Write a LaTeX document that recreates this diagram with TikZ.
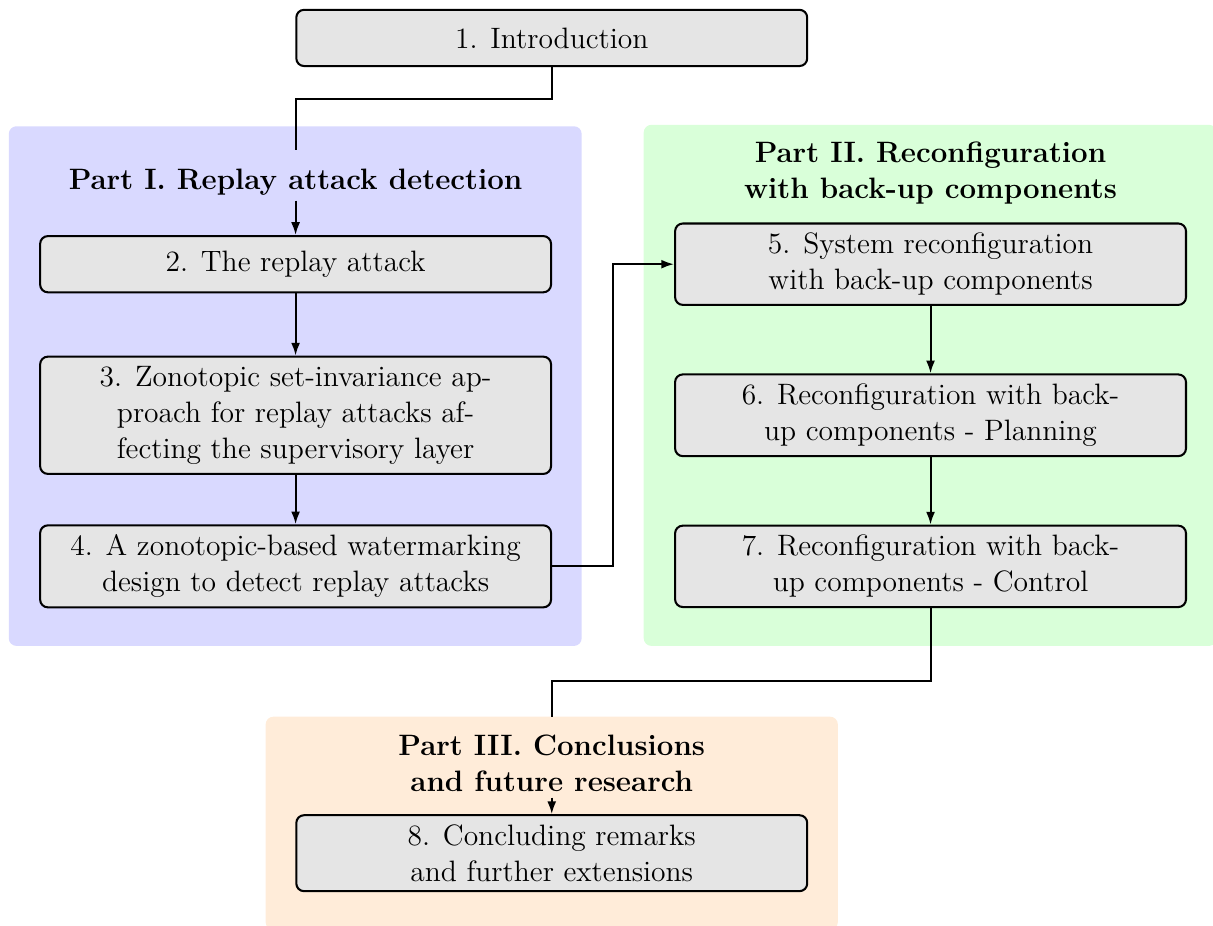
\documentclass[tikz,border=0pt,11pt]{standalone}
\usepackage{tikz}
\usetikzlibrary{arrows.meta, positioning}
\newcommand{\chapfont}{\fontsize{11.5}{14.1}\selectfont}

\begin{document}
\begin{tikzpicture}[
    box/.style={draw=black, thick, fill=gray!20, rounded corners=3pt, font=\chapfont,
                minimum width=7cm, minimum height=0.77cm, align=center},
    part/.style={font=\chapfont\bfseries, align=center, inner sep=2pt},
    partbg/.style={fill=#1!15, rounded corners=3pt},
    link/.style={thick},
    arrow/.style={thick, -{Latex[length=5pt, width=3.5pt]}},
]
    \useasboundingbox (0, 0) rectangle (16.62, -12.68);

    % part backgrounds
    \fill[partbg=blue] (0.12, -1.73) rectangle (7.97, -8.85);
    \fill[partbg=green] (8.82, -1.71) rectangle (16.67, -8.85);
    \fill[partbg=orange] (3.64, -9.82) rectangle (11.48, -12.74);

    \node[box] (intro) at (7.56, -0.52) {1. Introduction};

    % Part I
    \node[part] (partI) at (4.05, -2.49) {Part I. Replay attack detection};
    \node[box] (replay) at (4.05, -3.62) {2. The replay attack};
    \node[box] (zono) at (4.05, -5.69) {3. Zonotopic set-invariance ap-\\proach for replay attacks af-\\fecting the supervisory layer};
    \node[box] (water) at (4.05, -7.76) {4. A zonotopic-based watermarking\\design to detect replay attacks};

    % Part II
    \node[part] (partII) at (12.75, -2.37) {Part II. Reconfiguration\\with back-up components};
    \node[box] (sysrec) at (12.75, -3.62) {5. System reconfiguration\\with back-up components};
    \node[box] (plan) at (12.75, -5.69) {6. Reconfiguration with back-\\up components - Planning};
    \node[box] (ctrl) at (12.75, -7.76) {7. Reconfiguration with back-\\up components - Control};

    % Part III
    \node[part] (partIII) at (7.56, -10.46) {Part III. Conclusions\\and future research};
    \node[box] (concl) at (7.56, -11.69) {8. Concluding remarks\\and further extensions};

    \coordinate (inI) at (4.05, -2.05);
    \coordinate (inIII) at (7.56, -9.82);

    \draw[link] (intro.south) -- ++(0, -0.44) -| (inI);
    \draw[arrow] (partI) -- (replay);
    \draw[arrow] (replay) -- (zono);
    \draw[arrow] (zono) -- (water);
    \draw[arrow] (water.east) -- ++(0.84, 0) |- (sysrec.west);
    \draw[arrow] (sysrec) -- (plan);
    \draw[arrow] (plan) -- (ctrl);
    \draw[link] (ctrl.south) -- ++(0, -1.0) -| (inIII);
    \draw[arrow] (partIII) -- (concl);
\end{tikzpicture}
\end{document}
